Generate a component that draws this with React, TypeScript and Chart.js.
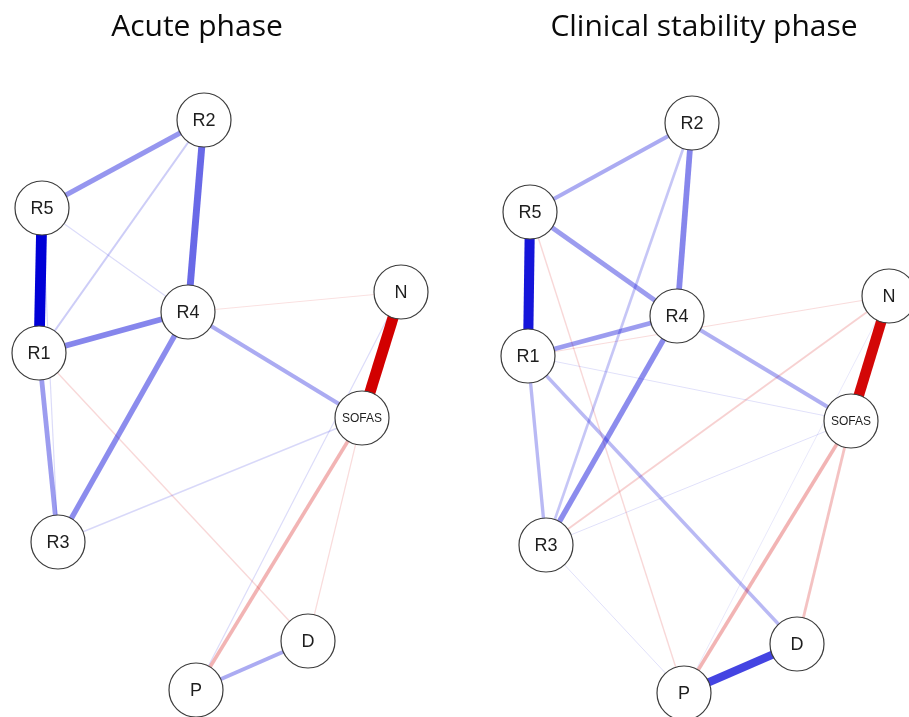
import React, { useEffect, useRef } from "react";
import { Chart, registerables } from "chart.js";

Chart.register(...registerables);

// ---------- data ----------
const nodeLabels = ["R1", "R2", "R3", "R4", "R5", "N", "SOFAS", "D", "P"];

// layout coordinates (network layout space)
const acuteX = [39, 204, 58, 188, 42, 401, 362, 308, 196];
const acuteY = [353, 120, 542, 312, 208, 292, 418, 641, 690];
const stableX = [528, 692, 546, 677, 530, 889, 851, 797, 684];
const stableY = [356, 123, 545, 316, 212, 296, 421, 644, 693];

// edges: partial correlations
const acuteFrom = ["R5", "N", "R2", "R1", "R4", "R2", "R1", "R4", "P", "SOFAS", "R2", "R3", "R1", "SOFAS", "R5", "R5", "N", "R4"];
const acuteTo = ["R1", "SOFAS", "R4", "R4", "R3", "R5", "R3", "SOFAS", "D", "P", "R1", "SOFAS", "D", "D", "R4", "R3", "P", "N"];
const acuteWeight = [0.45, -0.46, 0.29, 0.24, 0.23, 0.21, 0.2, 0.17, 0.17, -0.15, 0.09, 0.06, -0.06, -0.05, 0.05, 0.05, 0.05, -0.04];

const stableFrom = ["R5", "N", "P", "R2", "R4", "R5", "R1", "R2", "R4", "SOFAS", "R1", "R1", "SOFAS", "R2", "N", "R5", "R1", "R1", "R3", "R3", "N"];
const stableTo = ["R1", "SOFAS", "D", "R4", "R3", "R4", "R4", "R5", "SOFAS", "P", "R3", "D", "D", "R3", "R3", "P", "N", "SOFAS", "SOFAS", "P", "P"];
const stableWeight = [0.42, -0.44, 0.35, 0.24, 0.23, 0.2, 0.2, 0.17, 0.16, -0.15, 0.14, 0.14, -0.12, 0.11, -0.08, -0.06, -0.05, 0.04, 0.04, 0.04, 0.02];

const titles = ["Acute phase", "Clinical stability phase"];

// ---------- styling helpers ----------
const TITLE_SIZE = 30;
const TITLE_PAD_TOP = 9;
const TITLE_PAD_BOTTOM = 10;
const TITLE_H = TITLE_PAD_TOP + TITLE_SIZE * 1.2 + TITLE_PAD_BOTTOM;
const PAGE_H = 717;
const NODE_R = 27;

function edgeColor(w: number) {
  const a = Math.min(1, 0.1 + 0.9 * Math.pow(Math.abs(w) / 0.45, 1.4));
  return w > 0 ? `rgba(0,0,215,${a.toFixed(3)})` : `rgba(210,0,0,${a.toFixed(3)})`;
}
function edgeWidth(w: number) {
  return Math.max(0.8, 24 * Math.abs(w));
}

const labelPlugin = {
  id: "nodeLabels",
  afterDatasetsDraw(chart: any) {
    const meta = chart.getDatasetMeta(0);
    const ctx = chart.ctx;
    ctx.save();
    ctx.fillStyle = "#1e1e1e";
    ctx.textAlign = "center";
    ctx.textBaseline = "middle";
    meta.data.forEach((pt: any, i: number) => {
      const lab = nodeLabels[i];
      ctx.font = lab.length > 2 ? "12px 'Liberation Sans', Arial, sans-serif" : "18px 'Liberation Sans', Arial, sans-serif";
      ctx.fillText(lab, pt.x, pt.y + 1);
    });
    ctx.restore();
  },
};

type PanelProps = {
  title: string;
  xs: number[];
  ys: number[];
  from: string[];
  to: string[];
  weight: number[];
  left: number;
  width: number;
  padLeft: number;
  padRight: number;
};

function Panel(p: PanelProps) {
  const ref = useRef<HTMLCanvasElement | null>(null);
  useEffect(() => {
    if (!ref.current) return;
    const pos = (name: string) => {
      const i = nodeLabels.indexOf(name);
      return { x: p.xs[i], y: p.ys[i] };
    };
    const order = p.weight.map((_, i) => i).sort((a, b) => Math.abs(p.weight[b]) - Math.abs(p.weight[a]));
    const edgeSets = order.map((i) => ({
      type: "line" as const,
      data: [pos(p.from[i]), pos(p.to[i])],
      showLine: true,
      borderColor: edgeColor(p.weight[i]),
      borderWidth: edgeWidth(p.weight[i]),
      borderCapStyle: "butt" as const,
      pointRadius: 0,
      pointHoverRadius: 0,
      fill: false,
      clip: false as any,
      order: 1,
    }));
    const nodeSet = {
      type: "scatter" as const,
      data: nodeLabels.map((_, i) => ({ x: p.xs[i], y: p.ys[i] })),
      pointRadius: NODE_R,
      pointHoverRadius: NODE_R,
      pointBackgroundColor: "#ffffff",
      pointBorderColor: "#3c3c3c",
      pointBorderWidth: 1.2,
      clip: false as any,
      order: 0,
    };
    const chart = new Chart(ref.current, {
      type: "scatter",
      data: { datasets: [nodeSet as any, ...(edgeSets as any[])] },
      options: {
        responsive: false,
        animation: false,
        events: [],
        layout: { autoPadding: false, padding: { left: p.padLeft, right: p.padRight, top: 0, bottom: 0 } },
        scales: {
          x: { type: "linear", display: false, min: p.left + p.padLeft, max: p.left + p.width - p.padRight },
          y: { type: "linear", display: false, reverse: true, min: TITLE_H, max: PAGE_H },
        },
        plugins: {
          legend: { display: false },
          tooltip: { enabled: false },
          title: {
            display: true,
            text: p.title,
            color: "#0a0a0a",
            font: { family: "'Open Sans', Lato, sans-serif", size: TITLE_SIZE, weight: "normal" as any },
            padding: { top: TITLE_PAD_TOP, bottom: TITLE_PAD_BOTTOM },
          },
        },
      } as any,
      plugins: [labelPlugin],
    });
    return () => chart.destroy();
  }, []);
  return (
    <canvas
      ref={ref}
      width={p.width}
      height={PAGE_H}
      style={{ position: "absolute", left: p.left, top: 0, width: p.width, height: PAGE_H }}
    />
  );
}

export default function App() {
  return (
    <div style={{ position: "fixed", left: 0, top: 0, width: 909, height: PAGE_H, background: "#ffffff" }}>
      <Panel title={titles[0]} xs={acuteX} ys={acuteY} from={acuteFrom} to={acuteTo} weight={acuteWeight} left={0} width={454} padLeft={0} padRight={60} />
      <Panel title={titles[1]} xs={stableX} ys={stableY} from={stableFrom} to={stableTo} weight={stableWeight} left={454} width={455} padLeft={45} padRight={0} />
    </div>
  );
}
